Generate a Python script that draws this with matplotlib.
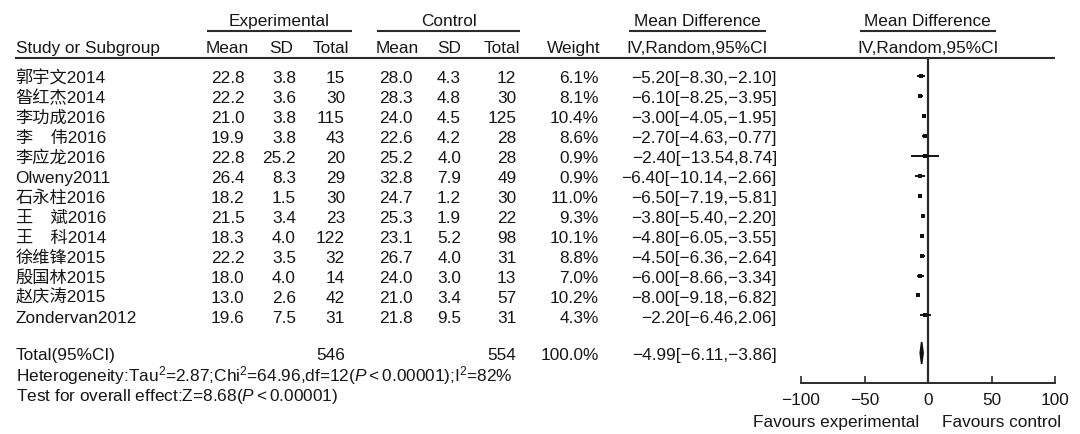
import matplotlib
matplotlib.use("Agg")
import matplotlib.pyplot as plt
import numpy as np

plt.rcParams['font.family'] = ['Liberation Sans', 'Noto Sans CJK SC', 'DejaVu Sans']
plt.rcParams['mathtext.fontset'] = 'custom'
plt.rcParams['mathtext.rm'] = 'Liberation Sans'
plt.rcParams['mathtext.it'] = 'Liberation Sans:italic'
plt.rcParams['mathtext.bf'] = 'Liberation Sans:bold'

# study level data
studies = ["郭宇文2014", "昝红杰2014", "李功成2016", "李\u3000伟2016", "李应龙2016",
           "Olweny2011", "石永柱2016", "王\u3000斌2016", "王\u3000科2014", "徐维锋2015",
           "殷国林2015", "赵庆涛2015", "Zondervan2012"]
exp_mean = [22.8, 22.2, 21.0, 19.9, 22.8, 26.4, 18.2, 21.5, 18.3, 22.2, 18.0, 13.0, 19.6]
exp_sd = [3.8, 3.6, 3.8, 3.8, 25.2, 8.3, 1.5, 3.4, 4.0, 3.5, 4.0, 2.6, 7.5]
exp_n = [15, 30, 115, 43, 20, 29, 30, 23, 122, 32, 14, 42, 31]
ctl_mean = [28.0, 28.3, 24.0, 22.6, 25.2, 32.8, 24.7, 25.3, 23.1, 26.7, 24.0, 21.0, 21.8]
ctl_sd = [4.3, 4.8, 4.5, 4.2, 4.0, 7.9, 1.2, 1.9, 5.2, 4.0, 3.0, 3.4, 9.5]
ctl_n = [12, 30, 125, 28, 28, 49, 30, 22, 98, 31, 13, 57, 31]
weight = [6.1, 8.1, 10.4, 8.6, 0.9, 0.9, 11.0, 9.3, 10.1, 8.8, 7.0, 10.2, 4.3]
md = [-5.20, -6.10, -3.00, -2.70, -2.40, -6.40, -6.50, -3.80, -4.80, -4.50, -6.00, -8.00, -2.20]
ci_lo = [-8.30, -8.25, -4.05, -4.63, -13.54, -10.14, -7.19, -5.40, -6.05, -6.36, -8.66, -9.18, -6.46]
ci_hi = [-2.10, -3.95, -1.95, -0.77, 8.74, -2.66, -5.81, -2.20, -3.55, -2.64, -3.34, -6.82, 2.06]

# pooled result
total_exp_n = 546
total_ctl_n = 554
total_weight = 100.0
total_md = -4.99
total_lo = -6.11
total_hi = -3.86
heterogeneity = r"Heterogeneity:Tau$^{2}$=2.87;Chi$^{2}$=64.96,df=12($P<$0.00001);I$^{2}$=82%"
overall = r"Test for overall effect:Z=8.68($P<$0.00001)"

axis_ticks = [-100, -50, 0, 50, 100]

FS = 12.4
TXT = '#161616'
LINE = '#2b2b2b'


def fmt(v, nd):
    return f"{v:.{nd}f}".replace('-', '\u2212')


fig = plt.figure(figsize=(10.8, 4.35), dpi=100)
ax = fig.add_axes([0, 0, 1, 1])
ax.set_xlim(0, 1080)
ax.set_ylim(435, 0)
ax.axis('off')


def put(x, y, s, ha='left'):
    ax.text(x, y + 6.2, s, ha=ha, va='baseline', fontsize=FS, color=TXT)


# header
put(279.3, 20, "Experimental", ha='center')
put(448.5, 20, "Control", ha='center')
put(697, 20, "Mean Difference", ha='center')
put(927.6, 20, "Mean Difference", ha='center')
for x0, x1 in [(206.6, 352), (377, 520), (629, 765.5), (859.6, 995.6)]:
    ax.plot([x0, x1], [32, 32], color=LINE, lw=1.5, solid_capstyle='butt')

put(15.5, 46.5, "Study or Subgroup")
put(227.6, 46.5, "Mean", ha='center')
put(281, 46.5, "SD", ha='center')
put(331, 46.5, "Total", ha='center')
put(397.5, 46.5, "Mean", ha='center')
put(449, 46.5, "SD", ha='center')
put(502, 46.5, "Total", ha='center')
put(601, 46.5, "Weight", ha='right')
put(697, 46.5, "IV,Random,95%CI", ha='center')
put(927.6, 46.5, "IV,Random,95%CI", ha='center')
ax.plot([15, 1055], [59, 59], color=LINE, lw=1.5, solid_capstyle='butt')

# rows
row_y = 77 + 19.95 * np.arange(len(studies))
for i, y in enumerate(row_y):
    put(15.5, y, studies[i])
    put(244.5, y, fmt(exp_mean[i], 1), ha='right')
    put(296, y, fmt(exp_sd[i], 1), ha='right')
    put(345, y, str(exp_n[i]), ha='right')
    put(413, y, fmt(ctl_mean[i], 1), ha='right')
    put(461, y, fmt(ctl_sd[i], 1), ha='right')
    put(516.5, y, str(ctl_n[i]), ha='right')
    put(598.5, y, fmt(weight[i], 1) + "%", ha='right')
    put(777, y, f"{fmt(md[i], 2)}[{fmt(ci_lo[i], 2)},{fmt(ci_hi[i], 2)}]", ha='right')

total_y = 354
put(15.5, total_y, "Total(95%CI)")
put(345, total_y, str(total_exp_n), ha='right')
put(516.5, total_y, str(total_ctl_n), ha='right')
put(598.5, total_y, fmt(total_weight, 1) + "%", ha='right')
put(777, total_y, f"{fmt(total_md, 2)}[{fmt(total_lo, 2)},{fmt(total_hi, 2)}]", ha='right')
put(15.5, 375.5, heterogeneity)
put(15.5, 395, overall)

put(918.8, 421, "Favours experimental", ha='right')
put(942, 421, "Favours control")

# forest panel
ax2 = fig.add_axes([801 / 1080, (435 - 383.5) / 435, 254 / 1080, (383.5 - 59) / 435])
ax2.patch.set_visible(False)
ax2.set_xlim(-100, 100)
ax2.set_ylim(383.5, 59)
for s in ['top', 'right', 'left']:
    ax2.spines[s].set_visible(False)
ax2.spines['bottom'].set_color(LINE)
ax2.spines['bottom'].set_linewidth(1.4)
ax2.set_yticks([])
ax2.set_xticks(axis_ticks)
ax2.set_xticklabels([fmt(t, 0) for t in axis_ticks])
ax2.tick_params(axis='x', direction='in', length=5, width=1.2, pad=7,
                labelsize=FS, colors=LINE, labelcolor=TXT)
ax2.axvline(0, color=LINE, lw=1.6)

ax2.hlines(row_y, ci_lo, ci_hi, color='#111111', lw=1.4)
for i, y in enumerate(row_y):
    ms = max(3.0, 1.05 * np.sqrt(weight[i]))
    ax2.plot(md[i], y, marker='s', ms=ms, color='#111111', mew=0)

h = 11
ax2.fill([total_lo, total_md, total_hi, total_md],
         [total_y, total_y - h, total_y, total_y + h],
         color='#111111', lw=1.2, ec='#111111')

fig.savefig("out.png", dpi=100)
